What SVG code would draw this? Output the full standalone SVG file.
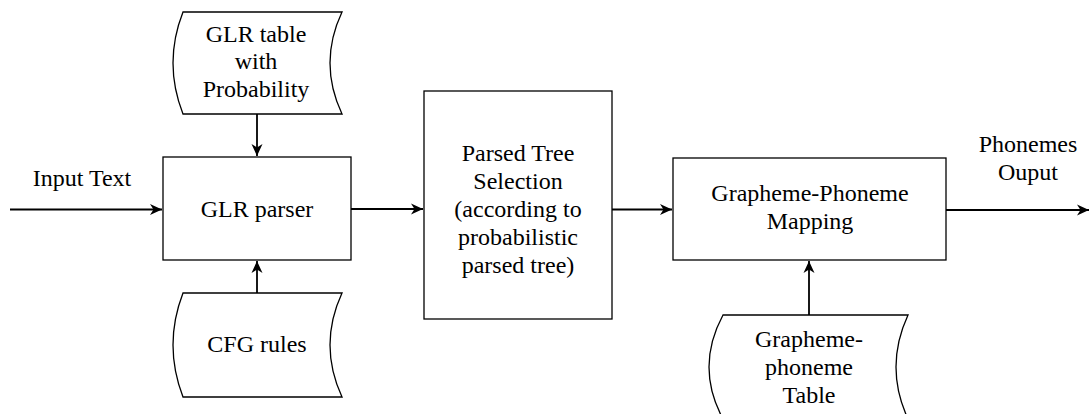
<svg xmlns="http://www.w3.org/2000/svg" width="1089" height="414" viewBox="0 0 1089 414">
<style>
.box{fill:#fff;stroke:#000;stroke-width:1.3}
.t{font-family:"Liberation Serif","Times New Roman",serif;font-size:24px;fill:#000;text-anchor:middle}
.c{fill:none;stroke:#000;stroke-width:1.8}
</style>
<defs>
<marker id="ah" markerUnits="userSpaceOnUse" markerWidth="14" markerHeight="12" refX="12" refY="6" orient="auto" viewBox="0 0 14 12">
<path d="M12,6 L0,0.5 L3.5,6 L0,11.5 Z" fill="#000"/>
</marker>
</defs>
<rect width="1089" height="414" fill="#fff"/>
<g id="glr-table">
<path class="box" d="M183,12 L342,12 Q318,63 342,114 L183,114 Q163,63 183,12 Z"/>
<text class="t" x="256" y="42">GLR table</text>
<text class="t" x="256" y="69">with</text>
<text class="t" x="256" y="97">Probability</text>
</g>
<g id="glr-parser">
<rect class="box" x="163" y="157" width="188" height="103"/>
<text class="t" x="257" y="217">GLR parser</text>
</g>
<g id="cfg-rules">
<path class="box" d="M183,293 L342,293 Q318,345 342,397 L183,397 Q163,345 183,293 Z"/>
<text class="t" x="257" y="352">CFG rules</text>
</g>
<g id="parsed-tree">
<rect class="box" x="424" y="91" width="188" height="228"/>
<text class="t" x="518" y="161">Parsed Tree</text>
<text class="t" x="518" y="189">Selection</text>
<text class="t" x="518" y="217">(according to</text>
<text class="t" x="518" y="245">probabilistic</text>
<text class="t" x="518" y="273">parsed tree)</text>
</g>
<g id="mapping">
<rect class="box" x="673" y="158" width="273" height="102"/>
<text class="t" x="810" y="201">Grapheme-Phoneme</text>
<text class="t" x="810" y="229">Mapping</text>
</g>
<g id="gp-table">
<path class="box" d="M723,315 L908,315 Q884,367 908,419 L723,419 Q695,367 723,315 Z"/>
<text class="t" x="809" y="347">Grapheme-</text>
<text class="t" x="809" y="375">phoneme</text>
<text class="t" x="809" y="403">Table</text>
</g>
<g id="labels">
<text class="t" x="82" y="186">Input Text</text>
<text class="t" x="1028" y="152">Phonemes</text>
<text class="t" x="1028" y="180">Ouput</text>
</g>
<g id="connectors">
<line class="c" x1="10" y1="209.5" x2="162" y2="209.5" marker-end="url(#ah)"/>
<line class="c" x1="351" y1="209" x2="423" y2="209" marker-end="url(#ah)"/>
<line class="c" x1="612" y1="209.5" x2="672" y2="209.5" marker-end="url(#ah)"/>
<line class="c" x1="946" y1="210" x2="1089" y2="210" marker-end="url(#ah)"/>
<line class="c" x1="257" y1="114" x2="257" y2="156" marker-end="url(#ah)"/>
<line class="c" x1="257" y1="293" x2="257" y2="261" marker-end="url(#ah)"/>
<line class="c" x1="809" y1="315" x2="809" y2="261" marker-end="url(#ah)"/>
</g>
</svg>
